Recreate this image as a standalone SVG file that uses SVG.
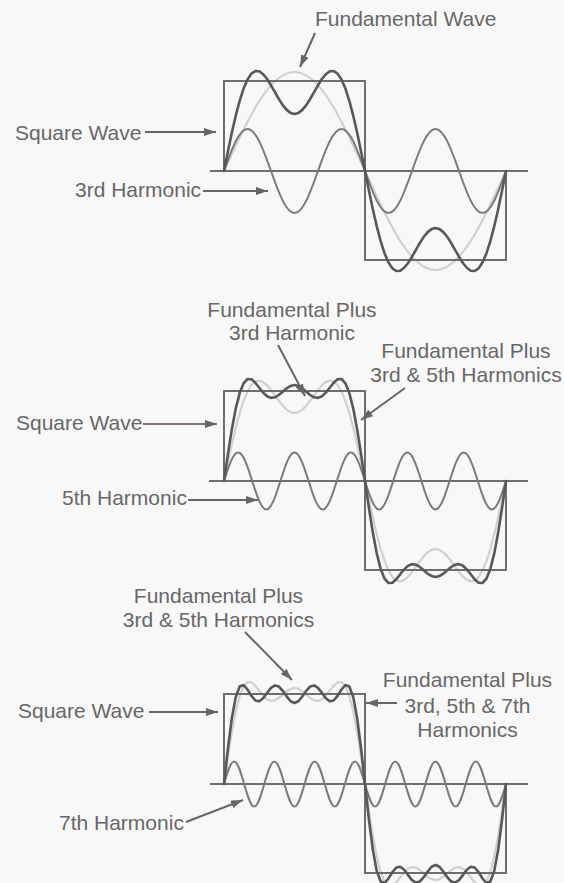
<svg xmlns="http://www.w3.org/2000/svg" xmlns:xlink="http://www.w3.org/1999/xlink" width="564" height="883" viewBox="0 0 564 883">
<style>
.lbl{font-family:"Liberation Sans",Arial,Helvetica,sans-serif;font-size:21px;fill:#676767}
.mid{text-anchor:middle}
.sq{fill:none;stroke:#6e6e6e;stroke-width:2}
.ax{stroke:#6e6e6e;stroke-width:2}
.lt{fill:none;stroke:#d0d0d0;stroke-width:2.2;stroke-linejoin:round}
.hm{fill:none;stroke:#7a7a7a;stroke-width:2}
.dk{fill:none;stroke:#585858;stroke-width:2.6;stroke-linejoin:round;stroke-linecap:round}
.arr{fill:none;stroke:#666;stroke-width:2;marker-end:url(#ah)}
</style>
<defs>
<marker id="ah" viewBox="0 0 12 8" refX="12" refY="4" markerWidth="12" markerHeight="8" markerUnits="userSpaceOnUse" orient="auto"><path d="M0,0 L12,4 L0,8 z" fill="#666"/></marker>
<path id="p1d" d="M0,0 L3.92,-19.5 7.83,-38.2 11.75,-55.3 15.67,-70.2 19.58,-82.4 23.5,-91.5 27.42,-97.4 31.33,-100 35.25,-99.7 39.17,-96.8 43.08,-92 47,-85.7 50.92,-78.9 54.83,-72 58.75,-65.9 62.67,-61.1 66.58,-58.1 70.5,-57 74.42,-58.1 78.33,-61.1 82.25,-65.9 86.17,-72 90.08,-78.9 94,-85.7 97.92,-92 101.83,-96.8 105.75,-99.7 109.67,-100 113.58,-97.4 117.5,-91.5 121.42,-82.4 125.33,-70.2 129.25,-55.3 133.17,-38.2 137.08,-19.5 141,0"/>
<path id="p2l" d="M0,0 L3.92,-18.7 7.83,-36.7 11.75,-53.3 15.67,-68 19.58,-80.1 23.5,-89.5 27.42,-96 31.33,-99.5 35.25,-100.4 39.17,-98.9 43.08,-95.6 47,-90.9 50.92,-85.6 54.83,-80.2 58.75,-75.3 62.67,-71.4 66.58,-68.9 70.5,-68 74.42,-68.9 78.33,-71.4 82.25,-75.3 86.17,-80.2 90.08,-85.6 94,-90.9 97.92,-95.6 101.83,-98.9 105.75,-100.4 109.67,-99.5 113.58,-96 117.5,-89.5 121.42,-80.1 125.33,-68 129.25,-53.3 133.17,-36.7 137.08,-18.7 141,0"/>
<path id="p2d" d="M0,0 L3.92,-26.9 7.83,-51.6 11.75,-72.4 15.67,-87.9 19.58,-97.7 23.5,-102 27.42,-101.7 31.33,-98.3 35.25,-93.3 39.17,-88.4 43.08,-84.8 47,-83.1 50.92,-83.7 54.83,-86 58.75,-89.3 62.67,-92.7 66.58,-95.1 70.5,-96 74.42,-95.1 78.33,-92.7 82.25,-89.3 86.17,-86 90.08,-83.7 94,-83.1 97.92,-84.8 101.83,-88.4 105.75,-93.3 109.67,-98.3 113.58,-101.7 117.5,-102 121.42,-97.7 125.33,-87.9 129.25,-72.4 133.17,-51.6 137.08,-26.9 141,0"/>
<path id="p3d" d="M0,0 L3.92,-35.5 7.83,-65.7 11.75,-86.9 15.67,-97.5 19.58,-99 23.5,-94.5 27.42,-88.1 31.33,-83.5 35.25,-82.7 39.17,-85.8 43.08,-91.1 47,-96.1 50.92,-98.6 54.83,-97.5 58.75,-93.2 62.67,-87.6 66.58,-82.8 70.5,-81 74.42,-82.8 78.33,-87.6 82.25,-93.2 86.17,-97.5 90.08,-98.6 94,-96.1 97.92,-91.1 101.83,-85.8 105.75,-82.7 109.67,-83.5 113.58,-88.1 117.5,-94.5 121.42,-99 125.33,-97.5 129.25,-86.9 133.17,-65.7 137.08,-35.5 141,0"/>
</defs>
<rect width="564" height="883" fill="#f8f8f8"/>

<g id="panel1">
<path class="lt" transform="translate(224,171)" d="M0,0 C22.99,-50.72 44.99,-99 70.5,-99 S118.01,-50.72 141,0 S185.99,99 211.5,99 S259.01,50.72 282,0"/>
<path class="sq" d="M224,171 V81 H365 V260 H506 V171"/>
<line class="ax" x1="210" y1="171" x2="528" y2="171"/>
<path class="hm" transform="translate(224,171)" d="M0,0 C7.66,-21.52 15,-42 23.5,-42 S39.34,-21.52 47,0 S62,42 70.5,42 S86.34,21.52 94,0 S109,-42 117.5,-42 S133.34,-21.52 141,0 S156,42 164.5,42 S180.34,21.52 188,0 S203,-42 211.5,-42 S227.34,-21.52 235,0 S250,42 258.5,42 S274.34,21.52 282,0"/>
<use xlink:href="#p1d" class="dk" transform="translate(224,171)"/>
<use xlink:href="#p1d" class="dk" transform="translate(506,171) rotate(180)"/>
</g>

<g id="panel2">
<use xlink:href="#p2l" class="lt" transform="translate(224,481)"/>
<use xlink:href="#p2l" class="lt" transform="translate(506,481) rotate(180)"/>
<path class="sq" d="M224,481 V391 H365 V570 H506 V481"/>
<line class="ax" x1="209" y1="481" x2="528" y2="481"/>
<path class="hm" transform="translate(224,481)" d="M0,0 C4.6,-14.6 9,-28.5 14.1,-28.5 S23.6,-14.6 28.2,0 S37.2,28.5 42.3,28.5 S51.8,14.6 56.4,0 S65.4,-28.5 70.5,-28.5 S80,-14.6 84.6,0 S93.6,28.5 98.7,28.5 S108.2,14.6 112.8,0 S121.8,-28.5 126.9,-28.5 S136.4,-14.6 141,0 S150,28.5 155.1,28.5 S164.6,14.6 169.2,0 S178.2,-28.5 183.3,-28.5 S192.8,-14.6 197.4,0 S206.4,28.5 211.5,28.5 S221,14.6 225.6,0 S234.6,-28.5 239.7,-28.5 S249.2,-14.6 253.8,0 S262.8,28.5 267.9,28.5 S277.4,14.6 282,0"/>
<use xlink:href="#p2d" class="dk" transform="translate(224,481)"/>
<use xlink:href="#p2d" class="dk" transform="translate(506,481) rotate(180)"/>
</g>

<g id="panel3">
<use xlink:href="#p2d" class="lt" transform="translate(224,784)"/>
<use xlink:href="#p2d" class="lt" transform="translate(506,784) rotate(180)"/>
<path class="sq" d="M224,784 V694 H365 V873 H506 V784"/>
<line class="ax" x1="210" y1="784" x2="528" y2="784"/>
<path class="hm" transform="translate(224,784)" d="M0,0 C3.28,-11.53 6.43,-22.5 10.07,-22.5 S16.86,-11.53 20.14,0 S26.57,22.5 30.21,22.5 S37.01,11.53 40.29,0 S46.72,-22.5 50.36,-22.5 S57.15,-11.53 60.43,0 S66.86,22.5 70.5,22.5 S77.29,11.53 80.57,0 S87,-22.5 90.64,-22.5 S97.43,-11.53 100.71,0 S107.14,22.5 110.79,22.5 S117.58,11.53 120.86,0 S127.29,-22.5 130.93,-22.5 S137.72,-11.53 141,0 S147.43,22.5 151.07,22.5 S157.86,11.53 161.14,0 S167.57,-22.5 171.21,-22.5 S178.01,-11.53 181.29,0 S187.72,22.5 191.36,22.5 S198.15,11.53 201.43,0 S207.86,-22.5 211.5,-22.5 S218.29,-11.53 221.57,0 S228,22.5 231.64,22.5 S238.43,11.53 241.71,0 S248.14,-22.5 251.79,-22.5 S258.58,-11.53 261.86,0 S268.29,22.5 271.93,22.5 S278.72,11.53 282,0"/>
<use xlink:href="#p3d" class="dk" transform="translate(224,784)"/>
<use xlink:href="#p3d" class="dk" transform="translate(506,784) rotate(180)"/>
</g>

<g id="connectors">
<line class="arr" x1="315" y1="33" x2="300" y2="67"/>
<line class="arr" x1="145" y1="132" x2="216" y2="132"/>
<line class="arr" x1="203" y1="191" x2="268" y2="191"/>
<line class="arr" x1="278" y1="345" x2="305" y2="396"/>
<line class="arr" x1="405" y1="388" x2="361" y2="420"/>
<line class="arr" x1="143" y1="424" x2="217" y2="424" style="stroke:#857272"/>
<line class="arr" x1="188" y1="500" x2="258" y2="500"/>
<line class="arr" x1="245" y1="632" x2="292" y2="680"/>
<line class="arr" x1="149" y1="712" x2="218" y2="712"/>
<line class="arr" x1="186" y1="822" x2="243" y2="800"/>
<line class="arr" x1="397" y1="703" x2="366" y2="703"/>
</g>

<g id="label-fundamental-wave"><text class="lbl" x="315" y="26">Fundamental Wave</text></g>
<g id="label-square-wave-1"><text class="lbl" x="15" y="140">Square Wave</text></g>
<g id="label-3rd-harmonic"><text class="lbl" x="75" y="197">3rd Harmonic</text></g>

<g id="label-fund-plus-3rd"><text class="lbl mid" x="292" y="317">Fundamental Plus</text><text class="lbl mid" x="292" y="340">3rd Harmonic</text></g>
<g id="label-fund-plus-3rd-5th-a"><text class="lbl mid" x="466" y="358">Fundamental Plus</text><text class="lbl mid" x="466" y="382">3rd &amp; 5th Harmonics</text></g>
<g id="label-square-wave-2"><text class="lbl" x="16" y="430">Square Wave</text></g>
<g id="label-5th-harmonic"><text class="lbl" x="62" y="505">5th Harmonic</text></g>

<g id="label-fund-plus-3rd-5th-b"><text class="lbl mid" x="218.5" y="603">Fundamental Plus</text><text class="lbl mid" x="218.5" y="627">3rd &amp; 5th Harmonics</text></g>
<g id="label-square-wave-3"><text class="lbl" x="18" y="718">Square Wave</text></g>
<g id="label-7th-harmonic"><text class="lbl" x="59" y="830">7th Harmonic</text></g>
<g id="label-fund-plus-3rd-5th-7th"><text class="lbl mid" x="467.5" y="687">Fundamental Plus</text><text class="lbl mid" x="467.5" y="713">3rd, 5th &amp; 7th</text><text class="lbl mid" x="467.5" y="737">Harmonics</text></g>
</svg>
